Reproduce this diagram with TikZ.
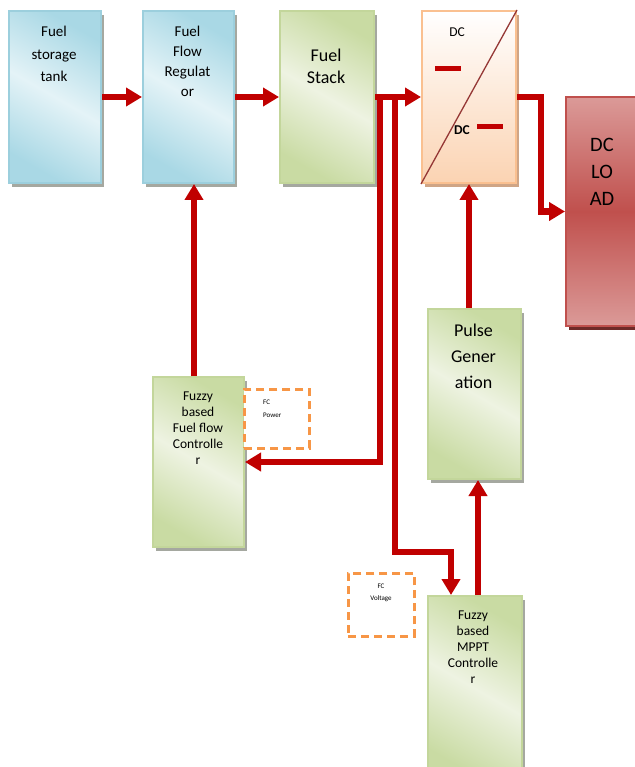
\documentclass[tikz,border=0pt]{standalone}
\usepackage{fontspec}
\setmainfont{Carlito}
\usetikzlibrary{arrows.meta,shadows}
\definecolor{bluebd}{HTML}{9CCFDD}
\definecolor{bluedk}{HTML}{A9D8E5}
\definecolor{bluelt}{HTML}{E4F3F7}
\definecolor{greenbd}{HTML}{C3D69B}
\definecolor{greendk}{HTML}{C9DBA3}
\definecolor{greenlt}{HTML}{EEF3E2}
\definecolor{orbd}{HTML}{FAC090}
\definecolor{orbot}{HTML}{FBD3B2}
\definecolor{loadbd}{HTML}{C0504D}
\definecolor{loadlt}{HTML}{DB9A98}
\definecolor{loadmid}{HTML}{C0504D}
\definecolor{loadsh}{HTML}{6E2A28}
\definecolor{arrred}{HTML}{C00000}
\definecolor{diagc}{HTML}{953735}
\definecolor{dashor}{HTML}{F79646}
\definecolor{shgray}{HTML}{A5A8A0}
\definecolor{shtan}{HTML}{CFA586}
\begin{document}
\begin{tikzpicture}[x=1pt,y=-1pt,
  base/.style={anchor=north west, inner sep=0pt, line width=2pt},
  bluebox/.style={base, draw=bluebd, top color=bluedk, bottom color=bluedk, middle color=bluelt, shading angle=-30,
    drop shadow={shadow xshift=3pt, shadow yshift=-4pt, fill=shgray, opacity=1}},
  greenbox/.style={base, draw=greenbd, top color=greendk, bottom color=greendk, middle color=greenlt, shading angle=-30,
    drop shadow={shadow xshift=3pt, shadow yshift=-4pt, fill=shgray, opacity=1}},
  convbox/.style={base, draw=orbd, top color=white, bottom color=orbot,
    drop shadow={shadow xshift=3pt, shadow yshift=-4pt, fill=shtan, opacity=1}},
  loadbox/.style={base, draw=loadbd, top color=loadlt, bottom color=loadlt, middle color=loadmid,
    drop shadow={shadow xshift=3pt, shadow yshift=-4pt, fill=loadsh, opacity=1}},
  dashbox/.style={base, draw=dashor, line width=2.5pt, dash pattern=on 8pt off 5pt, fill=white},
  txt/.style={anchor=north, inner sep=0pt, align=center, text=black},
  arr/.style={draw=arrred, line width=6pt, line join=miter, -{Triangle[width=18pt,length=16pt]}},
  bar/.style={fill=arrred, inner sep=0pt, minimum width=26pt, minimum height=5pt}
]
\useasboundingbox (0,0) rectangle (634,767);

% boxes
\node[bluebox, minimum width=92pt, minimum height=172pt] (tank) at (8,10) {};
\node[bluebox, minimum width=91pt, minimum height=172pt] (reg) at (142,10) {};
\node[greenbox, minimum width=94pt, minimum height=172pt] (stack) at (279,10) {};
\node[convbox, minimum width=94pt, minimum height=172pt] (dcdc) at (421,10) {};
\node[loadbox, minimum width=80pt, minimum height=229pt] (load) at (565,96) {};
\node[greenbox, minimum width=93pt, minimum height=170pt] (pulse) at (427,308) {};
\node[greenbox, minimum width=91pt, minimum height=170pt] (ffc) at (152,376) {};
\node[greenbox, minimum width=94pt, minimum height=185pt] (mppt) at (427,595) {};
\node[dashbox, minimum width=65pt, minimum height=59pt] (fcp) at (243,388) {};
\node[dashbox, minimum width=66pt, minimum height=63pt] (fcv) at (347,572) {};

% texts
\node[txt, font=\fontsize{15}{22.5}\selectfont] (tanktxt) at (54,26) {Fuel\\storage\\tank};
\node[txt, font=\fontsize{15}{20}\selectfont] (regtxt) at (187.5,26) {Fuel\\Flow\\Regulat\\or};
\node[txt, font=\fontsize{18}{22}\selectfont] (stacktxt) at (326,49) {Fuel\\Stack};
\node[txt, font=\fontsize{20.5}{27}\selectfont] (loadtxt) at (602,138) {DC\\LO\\AD};
\node[txt, font=\fontsize{18}{26}\selectfont] (pulsetxt) at (473.5,324) {Pulse\\Gener\\ation};
\node[txt, font=\fontsize{13.5}{16}\selectfont] (ffctxt) at (198,392) {Fuzzy\\based\\Fuel flow\\Controlle\\r};
\node[txt, font=\fontsize{13.5}{16}\selectfont] (mppttxt) at (473,611) {Fuzzy\\based\\MPPT\\Controlle\\r};
\node[anchor=north west, inner sep=0pt, align=left, font=\fontsize{7}{12.5}\selectfont] (fcptxt) at (263,400) {FC\\Power};
\node[txt, font=\fontsize{7}{11.5}\selectfont] (fcvtxt) at (381,584) {FC\\Voltage};

% converter symbol
\draw[diagc, line width=1.3pt] (dcdc.south west) -- (dcdc.north east);
\node[inner sep=0pt, font=\fontsize{13.5}{16}\selectfont] (dc1) at (457,32) {DC};
\node[inner sep=0pt, font=\bfseries\fontsize{13.5}{16}\selectfont] (dc2) at (462,130) {DC};
\node[bar] (bar1) at (448,69) {};
\node[bar] (bar2) at (490,127) {};

% connectors
\draw[arr] (tank.east) -- (reg.west);
\draw[arr] (reg.east) -- (stack.west);
\draw[arr] (stack.east) -- (dcdc.west);
\coordinate (b1) at ([xshift=5pt]stack.east);
\coordinate (b2) at ([xshift=20pt]stack.east);
\coordinate (b2turn) at ([yshift=-455pt]b2);
\draw[arr] (b1) |- (ffc.east);
\draw[arr] (b2) -- (b2turn) -| ([xshift=-24pt]mppt.north);
\draw[arr] ([xshift=3pt]mppt.north) -- ([xshift=3pt]mppt.north |- pulse.south);
\draw[arr] (pulse.north -| dcdc.south) -- (dcdc.south);
\draw[arr] ([xshift=-4.5pt]ffc.north) -- ([xshift=-4.5pt]ffc.north |- reg.south);
\coordinate (dcturn) at ([xshift=24pt]dcdc.east);
\draw[arr] (dcdc.east) -- (dcturn) |- (load.west);
\end{tikzpicture}
\end{document}
